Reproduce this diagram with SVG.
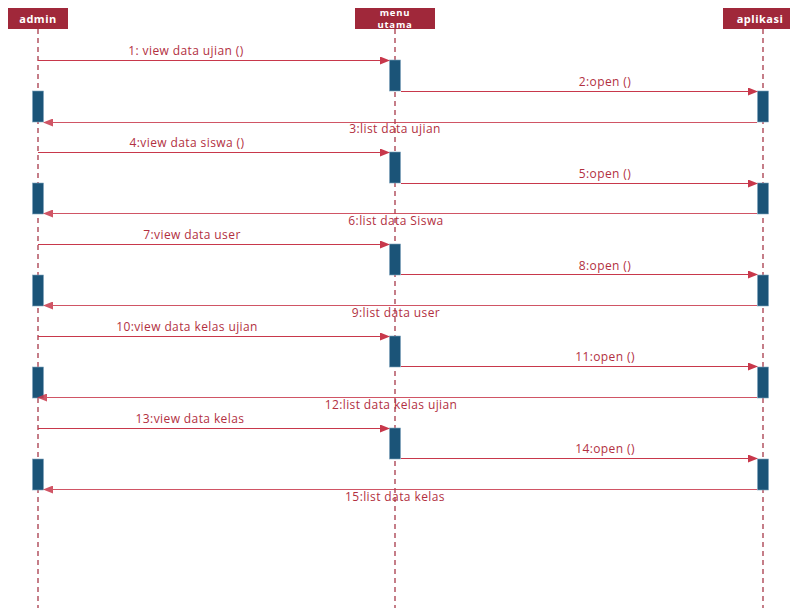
<svg xmlns="http://www.w3.org/2000/svg" width="790" height="608" viewBox="0 0 790 608">
<style>
.hdr{fill:#A0283A}
.ht{font-family:"Open Sans","Noto Sans",sans-serif;font-size:11px;font-weight:bold;fill:#fff;text-anchor:middle;letter-spacing:0.5px}
.ht2{font-family:"Open Sans","Noto Sans",sans-serif;font-size:9.5px;font-weight:bold;fill:#fff;text-anchor:middle;letter-spacing:0.8px}
.life{stroke:#A0283A;stroke-width:1.2;stroke-dasharray:5,4;fill:none}
.act{fill:#1B5478;stroke:#7FA3BC;stroke-width:0.6}
.msg{stroke:#C8384B;stroke-width:1;fill:none;marker-end:url(#ah)}
.ret{stroke:#C8384B;stroke-width:1;fill:none;marker-end:url(#ah);opacity:0.85}
.lbl{font-family:"Open Sans","Noto Sans",sans-serif;font-size:12px;fill:#B2303F;text-anchor:middle;letter-spacing:0.4px}
</style>
<defs>
<marker id="ah" markerWidth="10" markerHeight="8" refX="9" refY="4" orient="auto" markerUnits="userSpaceOnUse">
<path d="M0,0 L10,4 L0,8 Z" fill="#C8384B"/>
</marker>
</defs>
<rect width="790" height="608" fill="#fff"/>
<g id="admin">
<rect class="hdr" x="8" y="8" width="60" height="21"/>
<text class="ht" x="38" y="22.5">admin</text>
<line class="life" x1="38" y1="29" x2="38" y2="608"/>
</g>
<g id="menu-utama">
<rect class="hdr" x="355" y="8" width="80" height="21"/>
<text class="ht2" x="395" y="16">menu</text>
<text class="ht2" x="395" y="28">utama</text>
<line class="life" x1="395" y1="29" x2="395" y2="608"/>
</g>
<g id="aplikasi">
<rect class="hdr" x="723" y="8" width="70" height="21"/>
<text class="ht" x="760" y="22.5">aplikasi</text>
<line class="life" x1="763" y1="29" x2="763" y2="608"/>
</g>
<g id="activations">
<rect class="act" x="389.5" y="60" width="11" height="31"/>
<rect class="act" x="32.5" y="91" width="11" height="31"/>
<rect class="act" x="757.5" y="91" width="11" height="31"/>
<rect class="act" x="389.5" y="152" width="11" height="31"/>
<rect class="act" x="32.5" y="183" width="11" height="31"/>
<rect class="act" x="757.5" y="183" width="11" height="31"/>
<rect class="act" x="389.5" y="244" width="11" height="31"/>
<rect class="act" x="32.5" y="275" width="11" height="31"/>
<rect class="act" x="757.5" y="275" width="11" height="31"/>
<rect class="act" x="389.5" y="336" width="11" height="31"/>
<rect class="act" x="32.5" y="367" width="11" height="31"/>
<rect class="act" x="757.5" y="367" width="11" height="31"/>
<rect class="act" x="389.5" y="428" width="11" height="31"/>
<rect class="act" x="32.5" y="459" width="11" height="31"/>
<rect class="act" x="757.5" y="459" width="11" height="31"/>
</g>
<g id="connectors">
<line class="msg" x1="38" y1="60.5" x2="389" y2="60.5"/>
<line class="msg" x1="401" y1="91.5" x2="757" y2="91.5"/>
<line class="ret" x1="757" y1="122.5" x2="44" y2="122.5"/>
<line class="msg" x1="38" y1="152.5" x2="389" y2="152.5"/>
<line class="msg" x1="401" y1="183.5" x2="757" y2="183.5"/>
<line class="ret" x1="757" y1="213.5" x2="44" y2="213.5"/>
<line class="msg" x1="38" y1="244.5" x2="389" y2="244.5"/>
<line class="msg" x1="401" y1="274.5" x2="757" y2="274.5"/>
<line class="ret" x1="757" y1="305.5" x2="44" y2="305.5"/>
<line class="msg" x1="38" y1="336.5" x2="389" y2="336.5"/>
<line class="msg" x1="401" y1="366.5" x2="757" y2="366.5"/>
<line class="ret" x1="757" y1="397.5" x2="38" y2="397.5"/>
<line class="msg" x1="38" y1="428.5" x2="389" y2="428.5"/>
<line class="msg" x1="401" y1="458.5" x2="757" y2="458.5"/>
<line class="ret" x1="757" y1="489.5" x2="44" y2="489.5"/>
</g>
<g id="labels">
<text class="lbl" x="186" y="55">1: view data ujian ()</text>
<text class="lbl" x="605" y="86">2:open ()</text>
<text class="lbl" x="395" y="133">3:list data ujian</text>
<text class="lbl" x="187" y="147">4:view data siswa ()</text>
<text class="lbl" x="605" y="178">5:open ()</text>
<text class="lbl" x="396" y="225">6:list data Siswa</text>
<text class="lbl" x="192" y="239">7:view data user</text>
<text class="lbl" x="605" y="270">8:open ()</text>
<text class="lbl" x="396" y="317">9:list data user</text>
<text class="lbl" x="187" y="331">10:view data kelas ujian</text>
<text class="lbl" x="605" y="361">11:open ()</text>
<text class="lbl" x="391" y="409">12:list data kelas ujian</text>
<text class="lbl" x="190" y="423">13:view data kelas</text>
<text class="lbl" x="605" y="453">14:open ()</text>
<text class="lbl" x="395" y="501">15:list data kelas</text>
</g>
</svg>
